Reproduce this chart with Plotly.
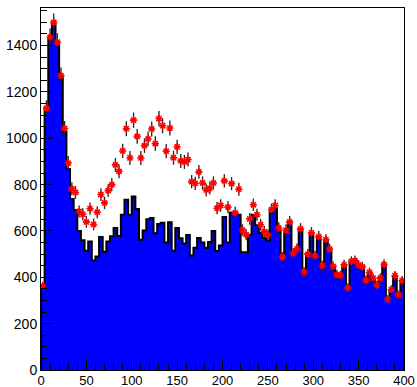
import numpy as np
import plotly.graph_objects as go

# Histogram (blue, filled) bin contents: 100 bins of width 4 from 0 to 400
bin_width = 4
hist_values = [
    360, 1123, 1433, 1493, 1415, 1267, 1027, 867, 738, 690,
    600, 560, 515, 555, 472, 490, 574, 510, 555, 577,
    613, 578, 670, 735, 670, 749, 695, 562, 602, 650,
    656, 590, 630, 635, 550, 638, 515, 613, 568, 546,
    583, 494, 528, 570, 550, 528, 552, 600, 514, 537,
    660, 550, 680, 677, 670, 508, 508, 584, 670, 625,
    592, 570, 558, 681, 697, 604, 480, 598, 634, 495,
    517, 605, 416, 498, 589, 487, 573, 447, 557, 517,
    443, 415, 407, 451, 351, 466, 469, 452, 445, 379,
    420, 390, 364, 398, 454, 301, 343, 404, 323, 382,
]

# Data points (red stars with error bars)
point_values = [
    362, 1130, 1436, 1500, 1415, 1270, 1042, 893, 782, 766,
    684, 672, 639, 696, 628, 681, 757, 721, 774, 800,
    885, 857, 945, 1041, 915, 1078, 1008, 915, 968, 997,
    1040, 977, 1085, 1054, 944, 1044, 916, 963, 902, 898,
    908, 813, 805, 855, 807, 777, 785, 807, 698, 710,
    816, 703, 804, 678, 780, 604, 584, 652, 713, 670,
    627, 597, 582, 692, 710, 613, 487, 604, 639, 502,
    523, 609, 423, 500, 592, 492, 576, 450, 563, 522,
    447, 412, 408, 454, 354, 469, 472, 453, 446, 388,
    421, 396, 366, 397, 456, 305, 347, 407, 325, 386,
]

x_ticks = [0, 50, 100, 150, 200, 250, 300, 350, 400]
y_ticks = [0, 200, 400, 600, 800, 1000, 1200, 1400]

n = len(hist_values)
left_edges = np.arange(n) * bin_width
centers = left_edges + bin_width / 2

# step outline: start at 0, each bin's left edge, close at right edge
step_x = [0] + list(left_edges) + [n * bin_width, n * bin_width]
step_y = [0] + list(hist_values) + [hist_values[-1], 0]

fig = go.Figure()
fig.add_trace(go.Scatter(
    x=step_x, y=step_y, mode="lines", line=dict(shape="hv", color="black", width=2),
    fill="tozeroy", fillcolor="#0000ff", hoverinfo="skip", showlegend=False,
))
fig.add_trace(go.Scatter(
    x=centers, y=point_values, mode="markers",
    marker=dict(symbol="asterisk-open", size=6, color="#ff0000",
                line=dict(color="#ff0000", width=1.6)),
    error_y=dict(type="sqrt", color="#222222", thickness=1.3, width=0),
    showlegend=False,
))

font = dict(family="Liberation Sans, Arial, sans-serif", size=14, color="black")
xfont = dict(family="Liberation Sans, Arial, sans-serif", size=13, color="black")
fig.update_layout(
    width=417, height=387,
    margin=dict(l=41, r=13, t=8, b=17, autoexpand=False),
    paper_bgcolor="white", plot_bgcolor="white",
    font=font,
)
fig.update_xaxes(
    range=[0, 400], tickvals=x_ticks, ticks="inside", ticklen=11, tickwidth=1,
    tickcolor="black", showline=True, linecolor="black", linewidth=1, mirror=True,
    showgrid=False, zeroline=False, tickfont=xfont, automargin=False,
    ticklabelstandoff=-2,
    minor=dict(dtick=10, ticks="inside", ticklen=6, tickcolor="black", showgrid=False),
)
fig.update_yaxes(
    range=[0, 1562], tickvals=y_ticks, ticks="inside", ticklen=11, tickwidth=1,
    tickcolor="black", showline=True, linecolor="black", linewidth=1, mirror=True,
    showgrid=False, zeroline=False, tickfont=font, automargin=False,
    minor=dict(dtick=50, ticks="inside", ticklen=6, tickcolor="black", showgrid=False),
)

fig.write_html("out.html")
